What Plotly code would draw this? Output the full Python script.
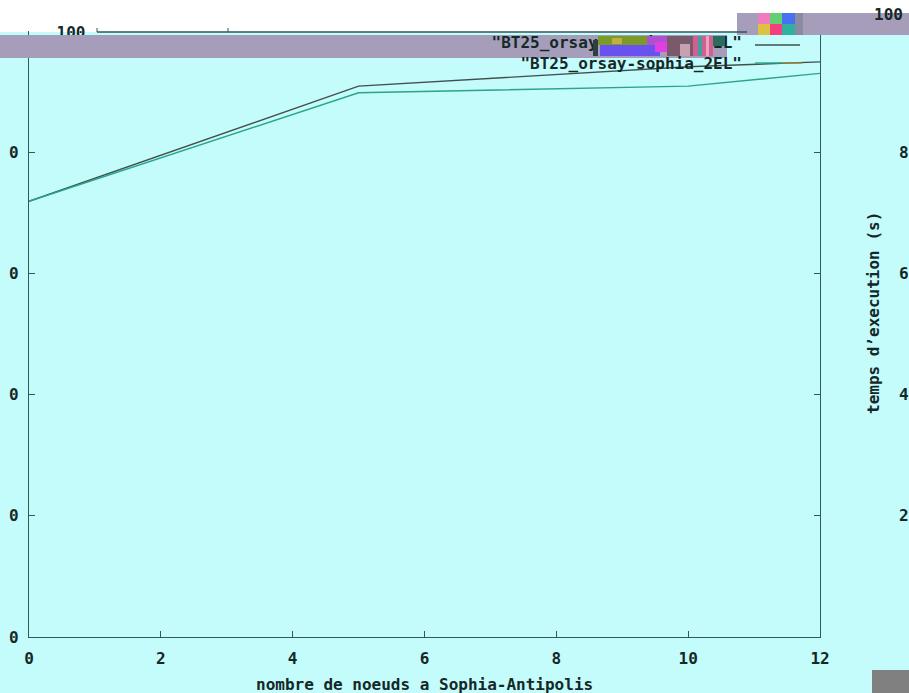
import plotly.graph_objects as go

# ---- data ----
nodes = [0, 5, 10, 12]
t_1el = [71.9, 90.9, 94.1, 94.9]
t_2el = [71.9, 89.8, 90.9, 93.0]
series_names = ['"BT25_orsay-sophia_10_2EL"', '"BT25_orsay-sophia_2EL"']
x_ticks = [0, 2, 4, 6, 8, 10, 12]
y_ticks = [0, 20, 40, 60, 80, 100]
x_title = "nombre de noeuds a Sophia-Antipolis"
y_title = "temps d\u2019execution (s)"

W, H = 909, 693
L, R, T, B = 29, 89, 31, 56
PW, PH = W - L - R, H - T - B
BG = "#c4fbfb"
BAND = "#a59db9"
AX = "#2f5a5a"
TXT = "#142828"
FONT = "DejaVu Sans Mono"

def px(x):
    return (x - L) / PW

def py(y):
    return (H - B - y) / PH

def dx(x):  # pixel -> data x
    return (x - L) / PW * 12

def dy(y):  # pixel -> data y
    return (H - B - y) / PH * 100

fig = go.Figure()
fig.add_trace(go.Scatter(x=nodes, y=t_1el, mode="lines",
                         line=dict(color="#40504f", width=1.4), showlegend=False))
fig.add_trace(go.Scatter(x=nodes, y=t_2el, mode="lines",
                         line=dict(color="#2aa585", width=1.4), showlegend=False))

# legend text (drawn as a trace so the glitch blocks can cover it)
fig.add_trace(go.Scatter(
    x=[dx(742), dx(742)], y=[dy(44), dy(65)], mode="text",
    text=series_names, textposition="middle left",
    textfont=dict(family=FONT, size=16, color=TXT, weight="bold"),
    cliponaxis=False, showlegend=False, hoverinfo="skip"))
# "100" label at top-left, partially covered by the band
fig.add_trace(go.Scatter(
    x=[dx(71)], y=[dy(34)], mode="text", text=[str(y_ticks[-1])],
    textposition="middle center",
    textfont=dict(family=FONT, size=16, color=TXT, weight="bold"),
    cliponaxis=False, showlegend=False, hoverinfo="skip"))

shapes = []
def rect(x0, y0, x1, y1, color, layer="above"):
    shapes.append(dict(type="rect", xref="paper", yref="paper",
                       x0=px(x0), x1=px(x1), y0=py(y1), y1=py(y0),
                       fillcolor=color, line=dict(width=0), layer=layer))

def hline(x0, x1, y, color, width=1.4, layer="above"):
    shapes.append(dict(type="line", xref="paper", yref="paper",
                       x0=px(x0), x1=px(x1), y0=py(y), y1=py(y),
                       line=dict(color=color, width=width), layer=layer))

# white top strip and glitch bands
rect(0, 0, W, 32, "white", layer="below")
rect(0, 35, 727, 58, BAND, layer="below")
rect(0, 35, 97, 58, BAND, layer="above")
rect(737, 13, W, 35, BAND, layer="above")
# top border line
hline(97, 747, 32, AX, width=1.4)
for tx in (97, 228):
    shapes.append(dict(type="line", xref="paper", yref="paper",
                       x0=px(tx), x1=px(tx), y0=py(32), y1=py(28),
                       line=dict(color=AX, width=1)))

# glitch mosaic in legend
for b in [
    (593, 40, 598, 56, "#304040"),
    (598, 36, 647, 45, "#7c9a2a"),
    (612, 38, 622, 44, "#c0b040"),
    (600, 45, 660, 56, "#6a52f0"),
    (647, 36, 667, 45, "#b050d0"),
    (655, 42, 668, 52, "#e040e0"),
    (667, 36, 693, 56, "#7a5a6a"),
    (680, 44, 690, 56, "#c8a0b0"),
    (693, 36, 713, 56, "#d06090"),
    (698, 36, 702, 56, "#40a0a0"),
    (706, 36, 709, 56, "#f0a0c0"),
    (713, 36, 725, 46, "#2a6c5e"),
]:
    rect(*b)

# glitch mosaic top right
for b in [
    (758, 13, 770, 24, "#f07cc0"),
    (758, 24, 770, 35, "#e0c040"),
    (770, 13, 782, 24, "#60d070"),
    (770, 24, 782, 35, "#f04080"),
    (782, 13, 795, 24, "#4a70f0"),
    (782, 24, 795, 35, "#30b0a0"),
    (795, 13, 803, 35, "#8a8aa0"),
]:
    rect(*b)

# legend samples
hline(755, 800, 45, "#40504f")
hline(755, 782, 63, "#2aa585")
hline(782, 802, 63, "#9a8a40")

# bottom right grey box
rect(872, 670, W, H, "#808080")

fig.update_layout(shapes=shapes)

ann = []
def text(x, y, s, xanchor="center", size=16, angle=0):
    ann.append(dict(xref="paper", yref="paper", x=px(x), y=py(y), text=s,
                    showarrow=False, xanchor=xanchor, yanchor="middle",
                    textangle=angle,
                    font=dict(family=FONT, size=size, color=TXT, weight="bold")))

# left tick label fragments and right tick label fragments (glitched edges)
for v in y_ticks[:-1]:
    ypix = H - B - v / 100 * PH
    text(14, ypix, str(v)[-1])
    if v > 0:
        text(897, ypix, str(v)[0], xanchor="left")
text(872, 14, str(y_ticks[-1]), xanchor="left")
text(873, 313, y_title, angle=-90)
text(424, 684, x_title)
fig.update_layout(annotations=ann)

fig.update_layout(
    width=W, height=H,
    margin=dict(l=L, r=R, t=T, b=B, pad=0, autoexpand=False),
    paper_bgcolor=BG, plot_bgcolor=BG,
    xaxis=dict(range=[0, 12], tickvals=x_ticks, ticks="inside", ticklen=6,
               tickcolor=AX, showline=True, linecolor=AX, linewidth=1.4,
               showgrid=False, zeroline=False, automargin=False,
               tickfont=dict(family=FONT, size=16, color=TXT, weight="bold"),
               ticklabelstandoff=7),
    yaxis=dict(range=[0, 100], tickvals=y_ticks, ticks="inside", ticklen=6,
               tickcolor=AX, showline=True, linecolor=AX, linewidth=1.4,
               mirror="ticks", showgrid=False, zeroline=False, automargin=False,
               showticklabels=False),
)

fig.write_html("out.html", config={"displayModeBar": False},
               post_script="document.body.style.margin='0';document.body.style.overflow='hidden';")
